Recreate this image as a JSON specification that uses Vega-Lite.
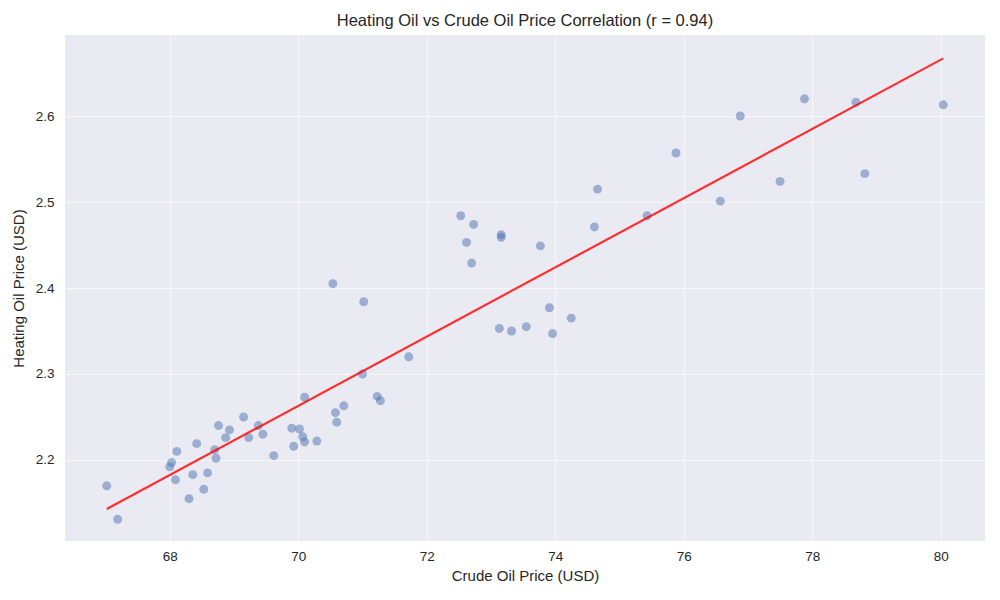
{
  "$schema": "https://vega.github.io/schema/vega-lite/v6.json",
  "autosize": "none",
  "width": 920,
  "height": 506,
  "padding": {"left": 65, "top": 35, "right": 15, "bottom": 59},
  "background": "white",
  "title": {
    "text": "Heating Oil vs Crude Oil Price Correlation (r = 0.94)",
    "font": "Liberation Sans",
    "fontSize": 16.5,
    "fontWeight": "normal",
    "color": "#262626",
    "anchor": "middle",
    "offset": 6
  },
  "config": {
    "view": {"fill": "#EAEAF2", "stroke": null},
    "axis": {
      "domain": false,
      "ticks": false,
      "gridColor": "white",
      "gridWidth": 1,
      "gridOpacity": 0.6,
      "labelFont": "Liberation Sans",
      "labelFontSize": 13.5,
      "labelColor": "#262626",
      "titleFont": "Liberation Sans",
      "titleFontSize": 15,
      "titleFontWeight": "normal",
      "titleColor": "#262626"
    }
  },
  "datasets": {
    "points": [
      {"crude": 67.02, "heating": 2.170},
      {"crude": 67.19, "heating": 2.131},
      {"crude": 68.00, "heating": 2.192},
      {"crude": 68.03, "heating": 2.197},
      {"crude": 68.11, "heating": 2.210},
      {"crude": 68.09, "heating": 2.177},
      {"crude": 68.30, "heating": 2.155},
      {"crude": 68.36, "heating": 2.183},
      {"crude": 68.42, "heating": 2.219},
      {"crude": 68.53, "heating": 2.166},
      {"crude": 68.59, "heating": 2.185},
      {"crude": 68.70, "heating": 2.212},
      {"crude": 68.72, "heating": 2.202},
      {"crude": 68.76, "heating": 2.240},
      {"crude": 68.87, "heating": 2.226},
      {"crude": 68.93, "heating": 2.235},
      {"crude": 69.15, "heating": 2.250},
      {"crude": 69.23, "heating": 2.226},
      {"crude": 69.38, "heating": 2.240},
      {"crude": 69.45, "heating": 2.230},
      {"crude": 69.62, "heating": 2.205},
      {"crude": 69.90, "heating": 2.237},
      {"crude": 69.93, "heating": 2.216},
      {"crude": 70.02, "heating": 2.236},
      {"crude": 70.07, "heating": 2.227},
      {"crude": 70.10, "heating": 2.221},
      {"crude": 70.10, "heating": 2.273},
      {"crude": 70.29, "heating": 2.222},
      {"crude": 70.58, "heating": 2.255},
      {"crude": 70.60, "heating": 2.244},
      {"crude": 70.71, "heating": 2.263},
      {"crude": 70.54, "heating": 2.405},
      {"crude": 71.02, "heating": 2.384},
      {"crude": 71.00, "heating": 2.300},
      {"crude": 71.23, "heating": 2.274},
      {"crude": 71.28, "heating": 2.269},
      {"crude": 71.72, "heating": 2.320},
      {"crude": 72.53, "heating": 2.484},
      {"crude": 72.62, "heating": 2.453},
      {"crude": 72.73, "heating": 2.474},
      {"crude": 72.70, "heating": 2.429},
      {"crude": 73.16, "heating": 2.462},
      {"crude": 73.16, "heating": 2.459},
      {"crude": 73.13, "heating": 2.353},
      {"crude": 73.32, "heating": 2.350},
      {"crude": 73.55, "heating": 2.355},
      {"crude": 73.77, "heating": 2.449},
      {"crude": 73.91, "heating": 2.377},
      {"crude": 73.96, "heating": 2.347},
      {"crude": 74.25, "heating": 2.365},
      {"crude": 74.61, "heating": 2.471},
      {"crude": 74.66, "heating": 2.515},
      {"crude": 75.43, "heating": 2.484},
      {"crude": 75.88, "heating": 2.557},
      {"crude": 76.57, "heating": 2.501},
      {"crude": 76.88, "heating": 2.600},
      {"crude": 77.50, "heating": 2.524},
      {"crude": 77.88, "heating": 2.620},
      {"crude": 78.68, "heating": 2.616},
      {"crude": 78.82, "heating": 2.533},
      {"crude": 80.04, "heating": 2.613}
    ],
    "fit": [
      {"crude": 67.02, "heating": 2.143},
      {"crude": 80.04, "heating": 2.667}
    ]
  },
  "layer": [
    {
      "data": {"name": "points"},
      "mark": {"type": "circle", "size": 80, "color": "#4C72B0", "opacity": 0.5},
      "encoding": {
        "x": {
          "field": "crude", "type": "quantitative",
          "title": "Crude Oil Price (USD)",
          "scale": {"domain": [66.37, 80.69], "nice": false, "zero": false},
          "axis": {"values": [68, 70, 72, 74, 76, 78, 80], "format": "d", "labelPadding": 8, "titlePadding": 6}
        },
        "y": {
          "field": "heating", "type": "quantitative",
          "title": "Heating Oil Price (USD)",
          "scale": {"domain": [2.1058, 2.6942], "nice": false, "zero": false},
          "axis": {"values": [2.2, 2.3, 2.4, 2.5, 2.6], "format": ".1f", "labelPadding": 11, "titlePadding": 9}
        }
      }
    },
    {
      "data": {"name": "fit"},
      "mark": {"type": "line", "color": "#FF0000", "opacity": 0.8, "strokeWidth": 2.2},
      "encoding": {
        "x": {"field": "crude", "type": "quantitative"},
        "y": {"field": "heating", "type": "quantitative"}
      }
    }
  ]
}
